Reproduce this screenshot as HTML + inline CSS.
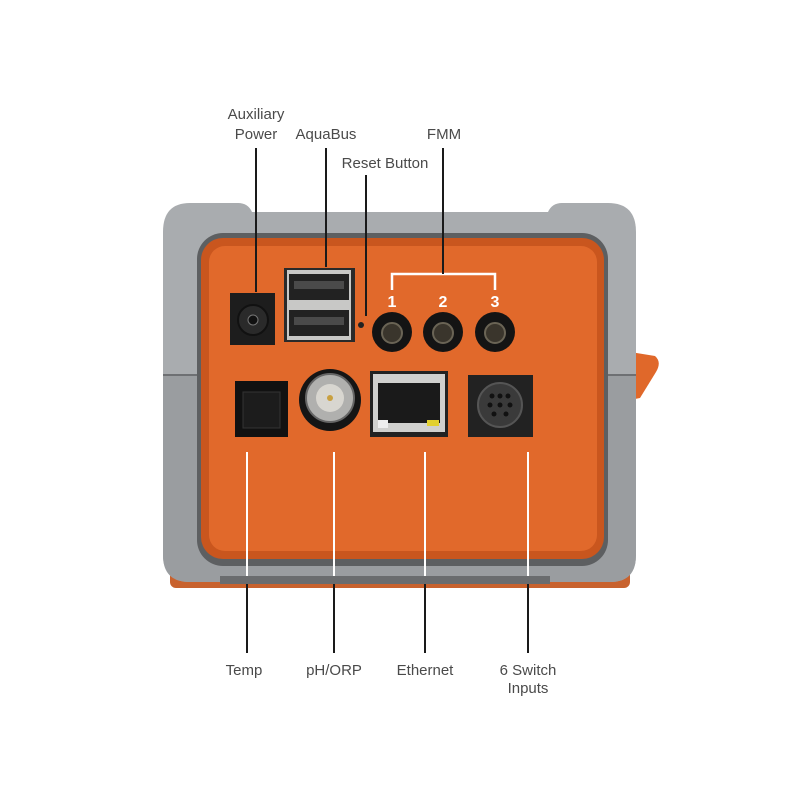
<!DOCTYPE html>
<html><head><meta charset="utf-8"><style>
html,body{margin:0;padding:0;background:#fff;}
svg{display:block}
text{font-family:"Liberation Sans",sans-serif;font-size:15px;fill:#4a4a4a;text-anchor:middle}
</style></head><body>
<svg width="800" height="800" viewBox="0 0 800 800" xmlns="http://www.w3.org/2000/svg">
<path d="M630 352 L655 356 Q662 362 656 372 L640 398 L630 400 Z" fill="#e0682a"/>
<rect x="170" y="570" width="460" height="18" rx="6" fill="#c8622e"/>
<path d="M190 203 L238 203 Q248 203 252 212 L548 212 Q552 203 562 203 L608 203 Q636 203 636 232 L636 555 Q636 582 610 582 L190 582 Q163 582 163 555 L163 232 Q163 203 190 203 Z" fill="#a9acaf"/>
<path d="M163 375 L636 375 L636 555 Q636 582 610 582 L190 582 Q163 582 163 555 Z" fill="#9a9da0"/>
<line x1="163" y1="375" x2="636" y2="375" stroke="#6e7073" stroke-width="2"/>
<rect x="220" y="576" width="330" height="8" fill="#6a6c6e"/>
<rect x="197" y="233" width="411" height="333" rx="26" fill="#5d5f61"/>
<rect x="201" y="238" width="403" height="321" rx="22" fill="#c9561e"/>
<rect x="209" y="246" width="388" height="305" rx="16" fill="#e1692b"/>
<rect x="230" y="293" width="45" height="52" fill="#1d1d1d"/>
<circle cx="253" cy="320" r="15" fill="#2a2a2a" stroke="#111" stroke-width="2"/>
<circle cx="253" cy="320" r="5" fill="#111" stroke="#777" stroke-width="1"/>
<rect x="284" y="268" width="71" height="74" fill="#2a2a2a"/>
<rect x="287" y="270" width="64" height="70" fill="#c8c8c6"/>
<rect x="289" y="274" width="60" height="26" fill="#222"/>
<rect x="294" y="281" width="50" height="8" fill="#4a4a4a"/>
<rect x="289" y="310" width="60" height="26" fill="#222"/>
<rect x="294" y="317" width="50" height="8" fill="#4a4a4a"/>
<circle cx="361" cy="325" r="3" fill="#222"/>
<g fill="#141414">
<circle cx="392" cy="332" r="20"/><circle cx="443" cy="332" r="20"/><circle cx="495" cy="332" r="20"/></g>
<g fill="#3a352c" stroke="#6a6455" stroke-width="2">
<circle cx="392" cy="333" r="10"/><circle cx="443" cy="333" r="10"/><circle cx="495" cy="333" r="10"/></g>
<path d="M392 290 L392 274 L495 274 L495 290" fill="none" stroke="#fff" stroke-width="2.5"/>
<text x="392" y="307" style="fill:#fff;font-size:16px;font-weight:bold">1</text>
<text x="443" y="307" style="fill:#fff;font-size:16px;font-weight:bold">2</text>
<text x="495" y="307" style="fill:#fff;font-size:16px;font-weight:bold">3</text>
<rect x="235" y="381" width="53" height="56" fill="#111"/>
<rect x="243" y="392" width="37" height="36" fill="#1c1c1c" stroke="#333"/>
<circle cx="330" cy="400" r="31" fill="#151515"/>
<circle cx="330" cy="398" r="24" fill="#b0b0ae" stroke="#666" stroke-width="2"/>
<circle cx="330" cy="398" r="14" fill="#d8d6d0"/>
<circle cx="330" cy="398" r="3" fill="#c9a040"/>
<rect x="370" y="371" width="78" height="66" fill="#222"/>
<rect x="373" y="374" width="72" height="58" fill="#d0d0ce"/>
<rect x="378" y="383" width="62" height="40" fill="#1a1a1a"/>
<rect x="378" y="420" width="10" height="8" fill="#eee"/>
<rect x="427" y="420" width="12" height="6" fill="#e2d030"/>
<rect x="468" y="375" width="65" height="62" fill="#222"/>
<circle cx="500" cy="405" r="22" fill="#3a3a3a" stroke="#555" stroke-width="2"/>
<g fill="#111"><circle cx="492" cy="396" r="2.5"/><circle cx="500" cy="396" r="2.5"/><circle cx="508" cy="396" r="2.5"/><circle cx="490" cy="405" r="2.5"/><circle cx="500" cy="405" r="2.5"/><circle cx="510" cy="405" r="2.5"/><circle cx="494" cy="414" r="2.5"/><circle cx="506" cy="414" r="2.5"/></g>
<g stroke="#1a1a1a" stroke-width="2">
<line x1="256" y1="148" x2="256" y2="292"/>
<line x1="326" y1="148" x2="326" y2="267"/>
<line x1="366" y1="175" x2="366" y2="316"/>
<line x1="443" y1="148" x2="443" y2="274"/>
</g>
<g stroke="#fff" stroke-width="2">
<line x1="247" y1="452" x2="247" y2="576"/>
<line x1="334" y1="452" x2="334" y2="576"/>
<line x1="425" y1="452" x2="425" y2="576"/>
<line x1="528" y1="452" x2="528" y2="576"/>
</g>
<g stroke="#1a1a1a" stroke-width="2">
<line x1="247" y1="584" x2="247" y2="653"/>
<line x1="334" y1="584" x2="334" y2="653"/>
<line x1="425" y1="584" x2="425" y2="653"/>
<line x1="528" y1="584" x2="528" y2="653"/>
</g>
<text x="256" y="119">Auxiliary</text>
<text x="256" y="139">Power</text>
<text x="326" y="139">AquaBus</text>
<text x="385" y="168">Reset Button</text>
<text x="444" y="139">FMM</text>
<text x="244" y="675">Temp</text>
<text x="334" y="675">pH/ORP</text>
<text x="425" y="675">Ethernet</text>
<text x="528" y="675">6 Switch</text>
<text x="528" y="693">Inputs</text>
</svg>
</body></html>
